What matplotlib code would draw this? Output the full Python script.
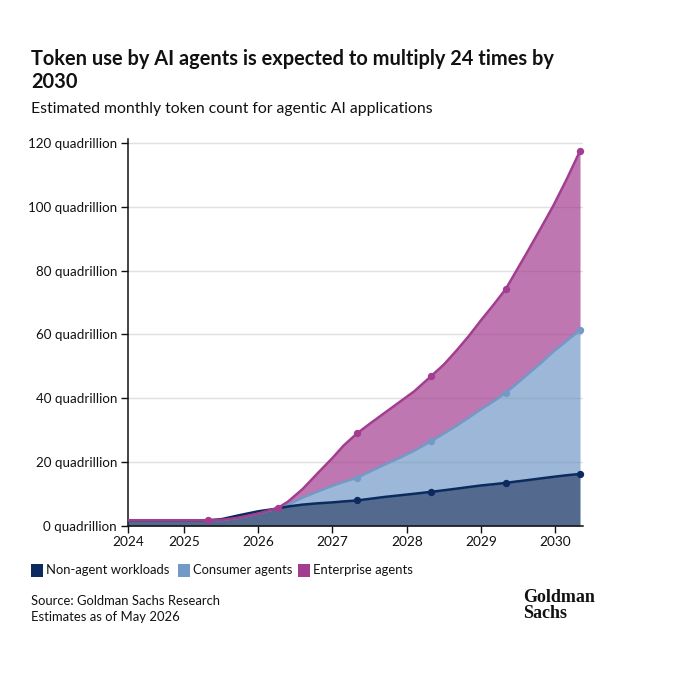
import matplotlib
matplotlib.use("Agg")
import matplotlib.pyplot as plt
from matplotlib.patches import Rectangle

# values (quadrillion tokens)
years = [2024.25, 2025.33, 2025.5, 2025.75, 2026.0, 2026.27, 2026.4, 2026.6, 2026.8, 2027.0, 2027.15, 2027.33,
         2027.5, 2027.7, 2027.9, 2028.1, 2028.33, 2028.5, 2028.67, 2028.83, 2029.0, 2029.17, 2029.33,
         2029.46, 2029.6, 2029.8, 2029.97, 2030.15, 2030.33]
non_agent = [1.8, 1.8, 2.1, 3.4, 4.6, 5.5, 6.1, 6.7, 7.1, 7.4, 7.7, 8.0,
             8.5, 9.1, 9.6, 10.1, 10.7, 11.2, 11.7, 12.2, 12.7, 13.1, 13.5,
             13.9, 14.3, 14.9, 15.4, 15.9, 16.3]
consumer = [1.8, 1.8, 1.9, 2.6, 3.9, 5.6, 6.6, 8.9, 10.8, 12.6, 13.8, 15.1,
            17.0, 19.2, 21.3, 23.6, 26.6, 29.0, 31.4, 33.9, 36.6, 39.1, 41.7,
            44.2, 47.0, 51.0, 54.6, 58.0, 61.4]
enterprise = [1.8, 1.8, 1.9, 2.6, 3.9, 5.7, 7.6, 11.6, 16.5, 21.3, 25.2, 29.0,
              32.0, 35.4, 38.8, 42.2, 47.0, 50.6, 55.0, 59.4, 64.5, 69.4, 74.2,
              79.4, 85.0, 93.2, 100.3, 108.6, 117.5]
marker_years = [2027.33, 2028.33, 2029.33, 2030.33]
enterprise_marker_years = [2025.33, 2026.27] + marker_years
tick_years = [2024.25, 2025, 2026, 2027, 2028, 2029, 2030]
tick_labels = ["2024", "2025", "2026", "2027", "2028", "2029", "2030"]
y_ticks = [0, 20, 40, 60, 80, 100, 120]

NAVY = "#0b2a5e"
BLUE = "#7399c6"
PURPLE = "#a33d8f"
INK = "#111111"
W, H = 674, 680

plt.rcParams["font.family"] = ["Lato", "DejaVu Sans"]

fig = plt.figure(figsize=(W / 100, H / 100), dpi=100)
ax = fig.add_axes([128 / W, 1 - 526 / H, (583 - 128) / W, (526 - 139) / H])

ax.fill_between(years, 0, non_agent, color=NAVY, alpha=0.7, lw=0, zorder=2)
ax.fill_between(years, non_agent, consumer, color=BLUE, alpha=0.7, lw=0, zorder=2)
ax.fill_between(years, consumer, enterprise, color=PURPLE, alpha=0.7, lw=0, zorder=2)

series = [(consumer, BLUE, 3, marker_years), (non_agent, NAVY, 4, marker_years),
          (enterprise, PURPLE, 5, enterprise_marker_years)]
for vals, col, z, my in series:
    ax.plot(years, vals, color=col, lw=1.8, zorder=z, solid_joinstyle="round")
    ax.scatter(my, [vals[years.index(x)] for x in my], s=28, color=col, lw=0, zorder=z, clip_on=False)

ax.set_xlim(2024.254, 2030.37)
ax.set_ylim(0, (526 - 139) / 3.192)
ax.set_yticks(y_ticks)
ax.set_yticklabels([f"{v} quadrillion" for v in y_ticks], fontsize=9.6, color=INK)
ax.set_xticks(tick_years)
ax.set_xticklabels(tick_labels, fontsize=9.8, color=INK)
ax.tick_params(axis="y", length=5, width=1, color=INK, pad=3)
ax.tick_params(axis="x", length=5, width=1, color=INK, pad=2)
ax.grid(axis="y", color="#e0e0e0", lw=1, zorder=1)
ax.set_axisbelow(True)
for s in ["top", "right"]:
    ax.spines[s].set_visible(False)
for s in ["left", "bottom"]:
    ax.spines[s].set_color(INK)
    ax.spines[s].set_linewidth(1.1)

# title block
fig.text(31 / W, 1 - 59 / H, "Token use by AI agents is expected to multiply 24 times by",
         fontsize=14.4, fontweight="bold", va="center", color=INK)
fig.text(31 / W, 1 - 82 / H, "2030", fontsize=14.4, fontweight="bold", va="center", color=INK)
fig.text(31 / W, 1 - 109 / H, "Estimated monthly token count for agentic AI applications",
         fontsize=11.3, va="center", color=INK)

# legend
for x, col, label in [(31, NAVY, "Non-agent workloads"), (178, BLUE, "Consumer agents"),
                      (298, PURPLE, "Enterprise agents")]:
    fig.add_artist(Rectangle((x / W, 1 - 577 / H), 12 / W, 13 / H, transform=fig.transFigure,
                             color=col, lw=0))
    fig.text((x + 15) / W, 1 - 570 / H, label, fontsize=9.4, va="center", color=INK)

fig.text(31 / W, 1 - 601 / H, "Source: Goldman Sachs Research", fontsize=9.4, va="center", color=INK)
fig.text(31 / W, 1 - 617 / H, "Estimates as of May 2026", fontsize=9.4, va="center", color=INK)

# logo wordmark
fig.text(523 / W, 1 - 605.5 / H, "Goldman\nSachs", fontsize=13, fontweight="bold", family="Liberation Serif",
         va="center", linespacing=0.85, color=INK)

fig.savefig("out.png", dpi=100)
